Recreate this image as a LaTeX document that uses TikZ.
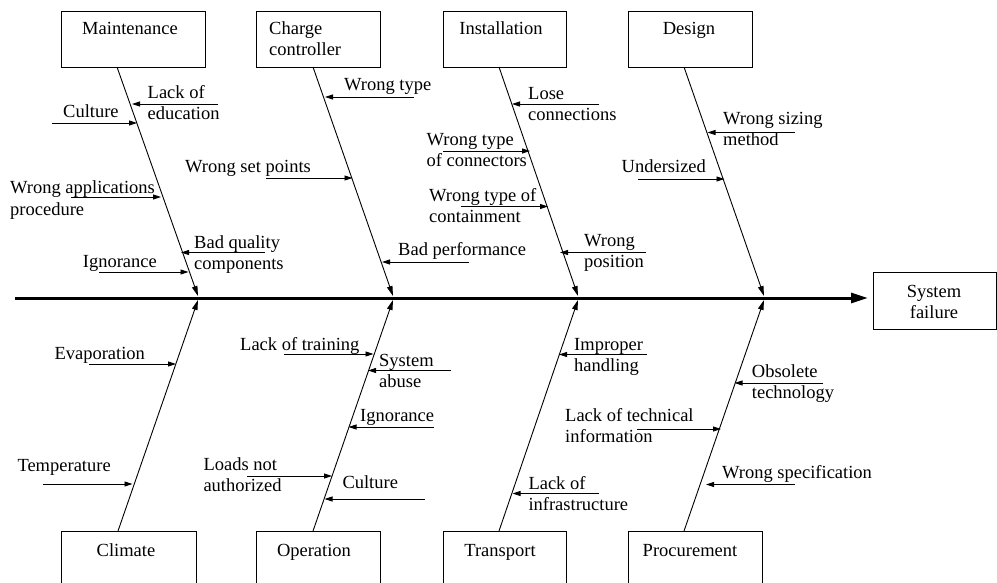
\documentclass[tikz,border=0pt]{standalone}
\usepackage{fontspec}
\setmainfont{Liberation Serif}
\usetikzlibrary{arrows.meta}
\newcommand\twoline[2]{\vtop{\hbox{#1}\hbox{#2}}}
\newcommand\twocent[2]{\vtop{\halign{\hfil##\hfil\cr#1\cr#2\cr}}}
\begin{document}
\begin{tikzpicture}[x=1pt,y=-1pt,
  font=\fontsize{18.5}{21}\selectfont,
  txt/.style={anchor=base west, inner sep=0pt},
  ctxt/.style={anchor=base, inner sep=0pt},
  box/.style={draw, line width=0.9pt, inner sep=0pt, anchor=north west},
  cause/.style={-{Triangle[length=8pt,width=5pt]}, line width=0.8pt},
  spine/.style={-{Triangle[length=10pt,width=5.5pt]}, line width=0.9pt},
  mainline/.style={-{Triangle[length=17pt,width=10pt]}, line width=3pt}]
\useasboundingbox (0,0) rectangle (997,583);
\clip (0,0) rectangle (997,583);
% boxes top
\node[box, minimum width=144pt, minimum height=56pt] (maint) at (61,11) {};
\node[box, minimum width=124pt, minimum height=56pt] (charge) at (256,11) {};
\node[box, minimum width=123pt, minimum height=56pt] (inst) at (443,11) {};
\node[box, minimum width=124pt, minimum height=56pt] (design) at (628,11) {};
\node[ctxt] (tmaint) at (130,35) {Maintenance};
\node[txt] (tcharge) at (269,35) {\twoline{Charge}{controller}};
\node[ctxt] (tinst) at (501,35) {Installation};
\node[ctxt] (tdesign) at (689,35) {Design};
% boxes bottom
\node[box, minimum width=135pt, minimum height=62pt] (climate) at (61,531) {};
\node[box, minimum width=124pt, minimum height=62pt] (oper) at (256,531) {};
\node[box, minimum width=123pt, minimum height=62pt] (trans) at (443,531) {};
\node[box, minimum width=134pt, minimum height=62pt] (proc) at (628,531) {};
\node[ctxt] (tclimate) at (126,556) {Climate};
\node[ctxt] (toper) at (314,556) {Operation};
\node[ctxt] (ttrans) at (500,556) {Transport};
\node[ctxt] (tproc) at (690,556) {Procurement};
% system failure
\node[box, minimum width=123pt, minimum height=57pt] (sys) at (873,272) {};
\node[ctxt] (tsys) at (934,297.5) {\twocent{System}{failure}};
% main line
\coordinate (ms) at (15,298);
\coordinate (me) at (868,298);
\draw[mainline] (ms) -- (me);
% spines
\coordinate (s1a) at (117,67);  \coordinate (s1b) at (198,296);
\coordinate (s2a) at (313,67);  \coordinate (s2b) at (393,296);
\coordinate (s3a) at (499,67);  \coordinate (s3b) at (578,296);
\coordinate (s4a) at (684,67);  \coordinate (s4b) at (764,296);
\coordinate (b1a) at (118,531); \coordinate (b1b) at (198,300);
\coordinate (b2a) at (313,531); \coordinate (b2b) at (393,300);
\coordinate (b3a) at (499,531); \coordinate (b3b) at (578,300);
\coordinate (b4a) at (684,531); \coordinate (b4b) at (764,300);
\foreach \a/\b in {s1a/s1b,s2a/s2b,s3a/s3b,s4a/s4b,b1a/b1b,b2a/b2b,b3a/b3b,b4a/b4b}
  \draw[spine] (\a) -- (\b);
% causes: Maintenance
\node[txt] (c1) at (147.5,99) {\twoline{Lack of}{education}};
\coordinate (c1a) at (218,104); \coordinate (c1b) at (132,104);
\node[txt] (c2) at (63,118) {Culture};
\coordinate (c2a) at (52,123); \coordinate (c2b) at (137,123);
\node[txt] (c3) at (10,194) {\twoline{Wrong applications}{procedure}};
\coordinate (c3a) at (71,197); \coordinate (c3b) at (161,197);
\node[txt] (c4) at (194,248) {\twoline{Bad quality}{components}};
\coordinate (c4a) at (265,252.5); \coordinate (c4b) at (181,252.5);
\node[txt] (c5) at (82.7,267) {Ignorance};
\coordinate (c5a) at (99,272); \coordinate (c5b) at (188.5,272);
% Charge controller
\node[txt] (c6) at (344,91) {Wrong type};
\coordinate (c6a) at (414,97); \coordinate (c6b) at (325,97);
\node[txt] (c7) at (185,173) {Wrong set points};
\coordinate (c7a) at (266,178); \coordinate (c7b) at (352.5,178);
\node[txt] (c8) at (398,255) {Bad performance};
\coordinate (c8a) at (469,262); \coordinate (c8b) at (382,262);
% Installation
\node[txt] (c9) at (528,99.5) {\twoline{Lose}{connections}};
\coordinate (c9a) at (599,104); \coordinate (c9b) at (512,104);
\node[txt] (c10) at (426.5,145.5) {\twoline{Wrong type}{of connectors}};
\coordinate (c10a) at (443,151); \coordinate (c10b) at (530,151);
\node[txt] (c11) at (429,201.5) {\twoline{Wrong type of}{containment}};
\coordinate (c11a) at (461,206.5); \coordinate (c11b) at (548,206.5);
\node[txt] (c12) at (584,246.5) {\twoline{Wrong}{position}};
\coordinate (c12a) at (646,252.5); \coordinate (c12b) at (560,252.5);
% Design
\node[txt] (c13) at (723,124.5) {\twoline{Wrong sizing}{method}};
\coordinate (c13a) at (795,132.5); \coordinate (c13b) at (707.5,132.5);
\node[txt] (c14) at (621.5,173) {Undersized};
\coordinate (c14a) at (638,179); \coordinate (c14b) at (724.5,179);
% Climate
\node[txt] (c15) at (54.3,359) {Evaporation};
\coordinate (c15a) at (89,364); \coordinate (c15b) at (176,364);
\node[txt] (c16) at (17.3,471) {Temperature};
\coordinate (c16a) at (43,484); \coordinate (c16b) at (132.5,484);
% Operation
\node[txt] (c17) at (240,350) {Lack of training};
\coordinate (c17a) at (284,354); \coordinate (c17b) at (373.5,354);
\node[txt] (c18) at (379,366.5) {\twoline{System}{abuse}};
\coordinate (c18a) at (451,370.5); \coordinate (c18b) at (368,370.5);
\node[txt] (c19) at (360,421.5) {Ignorance};
\coordinate (c19a) at (434,427); \coordinate (c19b) at (348.5,427);
\node[txt] (c20) at (203.3,470) {\twoline{Loads not}{authorized}};
\coordinate (c20a) at (247,476); \coordinate (c20b) at (332,476);
\node[txt] (c21) at (342.3,488.5) {Culture};
\coordinate (c21a) at (425,499); \coordinate (c21b) at (324.5,499);
% Transport
\node[txt] (c22) at (574,350) {\twoline{Improper}{handling}};
\coordinate (c22a) at (646.5,354.5); \coordinate (c22b) at (559,354.5);
\node[txt] (c24) at (528.3,489.5) {\twoline{Lack of}{infrastructure}};
\coordinate (c24a) at (599,493.5); \coordinate (c24b) at (512.5,493.5);
% Procurement
\node[txt] (c23) at (565,421) {\twoline{Lack of technical}{information}};
\coordinate (c23a) at (637,429); \coordinate (c23b) at (721,429);
\node[txt] (c25) at (751.7,377.5) {\twoline{Obsolete}{technology}};
\coordinate (c25a) at (822.5,383); \coordinate (c25b) at (734.5,383);
\node[txt] (c26) at (722,478.3) {Wrong specification};
\coordinate (c26a) at (795,484.5); \coordinate (c26b) at (706,484.5);
\foreach \i in {1,...,26}
  \draw[cause] (c\i a) -- (c\i b);
\end{tikzpicture}
\end{document}
